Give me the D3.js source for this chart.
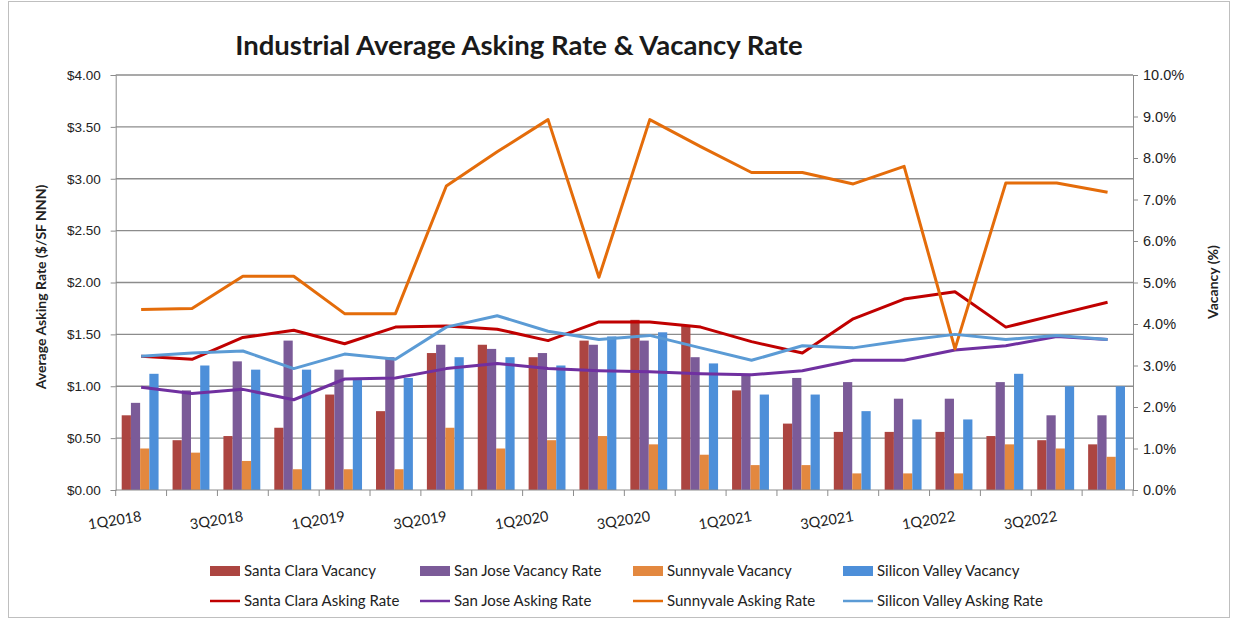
<!DOCTYPE html>
<html>
<head>
<meta charset="utf-8">
<script src="https://cdn.jsdelivr.net/npm/d3@7"></script>
<style>
  body { margin: 0; background: #fff; }
  svg { font-family: Lato, "Open Sans", sans-serif; }
</style>
</head>
<body>
<svg id="chart" width="1239" height="620"></svg>
<script>
// quarters
var quarters = ["1Q2018", "2Q2018", "3Q2018", "4Q2018", "1Q2019", "2Q2019", "3Q2019", "4Q2019",
    "1Q2020", "2Q2020", "3Q2020", "4Q2020", "1Q2021", "2Q2021", "3Q2021", "4Q2021",
    "1Q2022", "2Q2022", "3Q2022", "4Q2022"];

// vacancy (%) - bars, right axis
var santaClaraVacancy = [1.8, 1.2, 1.3, 1.5, 2.3, 1.9, 3.3, 3.5, 3.2, 3.6, 4.1, 3.95, 2.4, 1.6, 1.4, 1.4, 1.4, 1.3, 1.2, 1.1];
var sanJoseVacancy = [2.1, 2.4, 3.1, 3.6, 2.9, 3.2, 3.5, 3.4, 3.3, 3.5, 3.6, 3.2, 2.75, 2.7, 2.6, 2.2, 2.2, 2.6, 1.8, 1.8];
var sunnyvaleVacancy = [1.0, 0.9, 0.7, 0.5, 0.5, 0.5, 1.5, 1.0, 1.2, 1.3, 1.1, 0.85, 0.6, 0.6, 0.4, 0.4, 0.4, 1.1, 1.0, 0.8];
var siliconValleyVacancy = [2.8, 3.0, 2.9, 2.9, 2.65, 2.7, 3.2, 3.2, 3.0, 3.7, 3.8, 3.05, 2.3, 2.3, 1.9, 1.7, 1.7, 2.8, 2.5, 2.5];

// asking rate ($/SF NNN) - lines, left axis
var santaClaraRate = [1.29, 1.26, 1.47, 1.54, 1.41, 1.57, 1.58, 1.55, 1.44, 1.62, 1.62, 1.57, 1.43, 1.32, 1.65, 1.84, 1.91, 1.57, 1.69, 1.81];
var sanJoseRate = [0.99, 0.93, 0.97, 0.87, 1.07, 1.08, 1.17, 1.22, 1.17, 1.15, 1.14, 1.12, 1.11, 1.15, 1.25, 1.25, 1.35, 1.39, 1.48, 1.45];
var sunnyvaleRate = [1.74, 1.75, 2.06, 2.06, 1.70, 1.70, 2.93, 3.26, 3.57, 2.05, 3.57, 3.31, 3.06, 3.06, 2.95, 3.12, 1.36, 2.96, 2.96, 2.87];
var siliconValleyRate = [1.29, 1.32, 1.34, 1.17, 1.31, 1.26, 1.57, 1.68, 1.53, 1.45, 1.49, 1.37, 1.25, 1.39, 1.37, 1.44, 1.50, 1.45, 1.49, 1.45];

var leftTicks = [0, 0.5, 1, 1.5, 2, 2.5, 3, 3.5, 4];
var rightTicks = [0, 1, 2, 3, 4, 5, 6, 7, 8, 9, 10];

var barSeries = [
    { name: "Santa Clara Vacancy", values: santaClaraVacancy, color: "#ac4541" },
    { name: "San Jose Vacancy Rate", values: sanJoseVacancy, color: "#7b5b98" },
    { name: "Sunnyvale Vacancy", values: sunnyvaleVacancy, color: "#e3883f" },
    { name: "Silicon Valley Vacancy", values: siliconValleyVacancy, color: "#4d8fd9" }
];
var lineSeries = [
    { name: "Santa Clara Asking Rate", values: santaClaraRate, color: "#c00000" },
    { name: "San Jose Asking Rate", values: sanJoseRate, color: "#7030a0" },
    { name: "Sunnyvale Asking Rate", values: sunnyvaleRate, color: "#e46c0a" },
    { name: "Silicon Valley Asking Rate", values: siliconValleyRate, color: "#5b9bd5" }
];

var margin = { top: 75, right: 106, bottom: 130, left: 115.7 };
var width = 1239 - margin.left - margin.right;
var height = 620 - margin.top - margin.bottom;

var svg = d3.select("#chart");

// chart border
svg.append("rect")
    .attr("x", 8.5).attr("y", 1.5)
    .attr("width", 1221).attr("height", 616)
    .attr("fill", "none")
    .attr("stroke", "#bfbfbf");

// title
svg.append("text")
    .attr("x", 519)
    .attr("y", 55)
    .attr("text-anchor", "middle")
    .style("font-size", "27.5px")
    .style("font-weight", "bold")
    .attr("fill", "#1a1a1a")
    .text("Industrial Average Asking Rate & Vacancy Rate");

var g = svg.append("g")
    .attr("transform", "translate(" + margin.left + "," + margin.top + ")");

// scales
var x = d3.scaleBand().domain(quarters).range([0, width]).padding(0);
var x1 = d3.scaleBand().domain(barSeries.map(function (d) { return d.name; }))
    .range([6, x.bandwidth() - 8]);
var yLeft = d3.scaleLinear().domain([0, 4]).range([height, 0]);
var yRight = d3.scaleLinear().domain([0, 10]).range([height, 0]);

// gridlines
g.selectAll(".grid")
    .data(leftTicks.slice(1))
    .enter().append("line")
    .attr("x1", 0).attr("x2", width)
    .attr("y1", function (d) { return yLeft(d); })
    .attr("y2", function (d) { return yLeft(d); })
    .attr("stroke", "#8c8c8c")
    .attr("stroke-width", 1.3);

// left axis
var leftAxis = g.append("g")
    .call(d3.axisLeft(yLeft).tickValues(leftTicks).tickSize(5).tickPadding(10)
        .tickFormat(function (d) { return "$" + d3.format(".2f")(d); }));
leftAxis.selectAll("text").style("font-size", "13.5px").attr("fill", "#222");

// right axis
var rightAxis = g.append("g")
    .attr("transform", "translate(" + width + ",0)")
    .call(d3.axisRight(yRight).tickValues(rightTicks).tickSize(5).tickPadding(5)
        .tickFormat(function (d) { return d3.format(".1f")(d) + "%"; }));
rightAxis.selectAll("text").style("font-size", "14.5px").attr("fill", "#222");

[leftAxis, rightAxis].forEach(function (a) {
    a.select(".domain").attr("stroke", "#8c8c8c");
    a.selectAll(".tick line").attr("stroke", "#8c8c8c");
});

// bars
barSeries.forEach(function (s) {
    g.append("g").selectAll("rect")
        .data(s.values)
        .enter().append("rect")
        .attr("x", function (d, i) { return x(quarters[i]) + x1(s.name); })
        .attr("y", function (d) { return yRight(d); })
        .attr("width", x1.bandwidth())
        .attr("height", function (d) { return height - yRight(d); })
        .attr("fill", s.color);
});

// x axis
var xAxis = g.append("g")
    .attr("transform", "translate(0," + height + ")");
xAxis.append("line")
    .attr("x1", 0).attr("x2", width)
    .attr("stroke", "#8c8c8c");
xAxis.selectAll(".xtick")
    .data(quarters.concat(["end"]))
    .enter().append("line")
    .attr("x1", function (d, i) { return i * x.bandwidth(); })
    .attr("x2", function (d, i) { return i * x.bandwidth(); })
    .attr("y1", 0).attr("y2", 6)
    .attr("stroke", "#8c8c8c");
xAxis.selectAll(".xlabel")
    .data(quarters.filter(function (d, i) { return i % 2 == 0; }))
    .enter().append("text")
    .attr("text-anchor", "end")
    .attr("transform", function (d) {
        return "translate(" + (x(d) + x.bandwidth() / 2 + 1) + ",31) rotate(-9)";
    })
    .style("font-size", "14.5px")
    .attr("fill", "#222")
    .text(function (d) { return d; });

// lines
var line = d3.line()
    .x(function (d, i) { return x(quarters[i]) + x.bandwidth() / 2; })
    .y(function (d) { return yLeft(d); });

lineSeries.forEach(function (s) {
    g.append("path")
        .datum(s.values)
        .attr("fill", "none")
        .attr("stroke", s.color)
        .attr("stroke-width", 3)
        .attr("stroke-linejoin", "round")
        .attr("d", line);
});

// axis titles
svg.append("text")
    .attr("transform", "translate(46,287) rotate(-90)")
    .attr("text-anchor", "middle")
    .style("font-size", "14px")
    .style("font-weight", "bold")
    .attr("fill", "#222")
    .text("Average Asking Rate ($/SF NNN)");

svg.append("text")
    .attr("transform", "translate(1218,282) rotate(-90)")
    .attr("text-anchor", "middle")
    .style("font-size", "14px")
    .style("font-weight", "bold")
    .attr("fill", "#222")
    .text("Vacancy (%)");

// legend
var legendX = [210, 420, 633, 843];
var legend = svg.append("g");
barSeries.forEach(function (s, i) {
    var item = legend.append("g").attr("transform", "translate(" + legendX[i] + ",571)");
    item.append("rect").attr("x", 0).attr("y", -5).attr("width", 30).attr("height", 10).attr("fill", s.color);
    item.append("text").attr("x", 34).attr("y", 5).style("font-size", "15px").attr("fill", "#222").text(s.name);
});
lineSeries.forEach(function (s, i) {
    var item = legend.append("g").attr("transform", "translate(" + legendX[i] + ",601)");
    item.append("line").attr("x1", 0).attr("x2", 30).attr("y1", 0).attr("y2", 0)
        .attr("stroke", s.color).attr("stroke-width", 2.5);
    item.append("text").attr("x", 34).attr("y", 5).style("font-size", "15px").attr("fill", "#222").text(s.name);
});
</script>
</body>
</html>
